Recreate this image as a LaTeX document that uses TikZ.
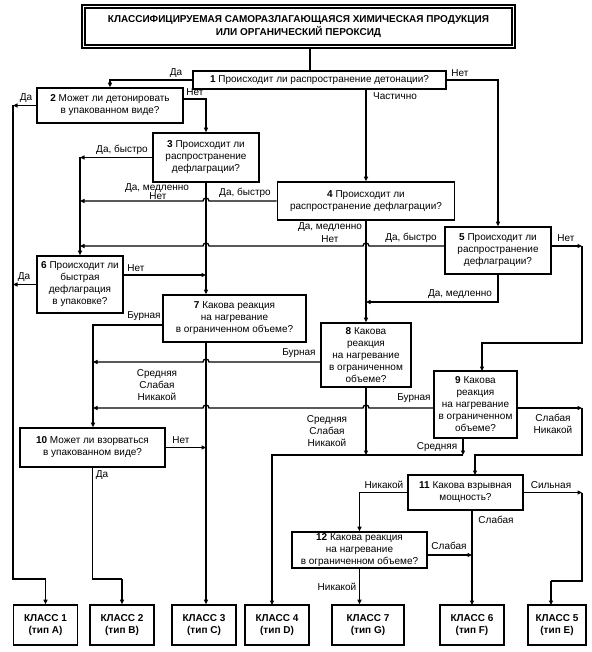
\documentclass[tikz,border=0pt]{standalone}
\usepackage{fontspec}
\setmainfont{Liberation Sans}
\usepackage{tikz}
\usetikzlibrary{arrows.meta}

\begin{document}
\begin{tikzpicture}[
    x=1pt, y=-1pt,
    font=\fontsize{10}{12}\selectfont,
    qbox/.style={rectangle, draw, line width=1.6pt, align=center, inner sep=1pt},
    kbox/.style={rectangle, draw, line width=1.6pt, align=center, minimum width=64pt, minimum height=40pt, font=\fontsize{10}{12}\selectfont\bfseries},
    lbl/.style={inner sep=0pt},
    ln/.style={line width=1.3pt},
    arr/.style={line width=1.3pt, -{Triangle[length=4.5pt,width=4pt]}}
]
\useasboundingbox (0,0) rectangle (591,652);

% Nodes
\node[draw, double, double distance=1.8pt, line width=1.3pt, minimum width=430pt, minimum height=40pt, align=center, font=\fontsize{10}{13}\selectfont\bfseries] (title) at (298.5,26.5)
  {КЛАССИФИЦИРУЕМАЯ САМОРАЗЛАГАЮЩАЯСЯ ХИМИЧЕСКАЯ ПРОДУКЦИЯ\\ИЛИ ОРГАНИЧЕСКИЙ ПЕРОКСИД};
\node[qbox, minimum width=253pt, minimum height=18pt] (b1) at (319.5,80) {\textbf{1} Происходит ли распространение детонации?};
\node[qbox, minimum width=146pt, minimum height=35pt] (b2) at (110,105.5) {\textbf{2} Может ли детонировать\\в упакованном виде?};
\node[qbox, minimum width=106pt, minimum height=49pt] (b3) at (206,157.5) {\textbf{3} Происходит ли\\распространение\\дефлаграции?};
\node[qbox, minimum width=177pt, minimum height=38pt] (b4) at (366,201) {\textbf{4} Происходит ли\\распространение дефлаграции?};
\node[qbox, minimum width=106pt, minimum height=47pt] (b5) at (498,250.5) {\textbf{5} Происходит ли\\распространение\\дефлаграции?};
\node[qbox, minimum width=86pt, minimum height=57pt] (b6) at (80,284.5) {\textbf{6} Происходит ли\\быстрая\\дефлаграция\\в упаковке?};
\node[qbox, minimum width=143pt, minimum height=47pt] (b7) at (234.5,318.5) {\textbf{7} Какова реакция\\на нагревание\\в ограниченном объеме?};
\node[qbox, minimum width=90pt, minimum height=64pt] (b8) at (366,355) {\textbf{8} Какова\\реакция\\на нагревание\\в ограниченном\\объеме?};
\node[qbox, minimum width=83pt, minimum height=67pt] (b9) at (475.5,404.5) {\textbf{9} Какова\\реакция\\на нагревание\\в ограниченном\\объеме?};
\node[qbox, minimum width=145pt, minimum height=39pt] (b10) at (92.5,447.5) {\textbf{10} Может ли взорваться\\в упакованном виде?};
\node[qbox, minimum width=115pt, minimum height=35pt] (b11) at (465.5,492.5) {\textbf{11} Какова взрывная\\мощность?};
\node[qbox, minimum width=135pt, minimum height=36pt] (b12) at (359.5,550) {\textbf{12} Какова реакция\\на нагревание\\в ограниченном объеме?};

\node[kbox] (k1) at (45.5,625) {КЛАСС 1\\(тип А)};
\node[kbox] (k2) at (122,625) {КЛАСС 2\\(тип В)};
\node[kbox] (k3) at (204,625) {КЛАСС 3\\(тип С)};
\node[kbox] (k4) at (277,625) {КЛАСС 4\\(тип D)};
\node[kbox, minimum width=72pt] (k7) at (368,625) {КЛАСС 7\\(тип G)};
\node[kbox] (k6) at (472,625) {КЛАСС 6\\(тип F)};
\node[kbox, minimum width=58pt] (k5) at (557,625) {КЛАСС 5\\(тип Е)};

% Junctions
\coordinate (jA) at (13,105.5);
\coordinate (jB) at (80,157.5);
\coordinate (jC) at (93,325);
\coordinate (jD) at (463,455);
\coordinate (jE) at (582,246);
\coordinate (jF) at (582,408);
\coordinate (jG) at (582,492.5);

% Edges
\draw[ln] ([xshift=-9.5pt]b1.north) -- ([xshift=-9.5pt]b1.north |- title.south);
\draw[arr] (b1.west) -| (b2.north);
\draw[arr] (b1.east) -| (b5.north);
\draw[arr] (b4.north |- b1.south) -- (b4.north);

\draw[arr] (b2.west) -- (jA);
\draw[ln] (jA) -- (13,579) -- (45.5,579);
\draw[arr] (45.5,579) -- (k1.north);
\draw[arr] ([yshift=6.5pt]b2.east) -| (b3.north);

\draw[arr] (b3.west) -- (jB);
\draw[arr] (jB) -- (b6.north);
\draw[arr] (b3.south) -- (b3.south |- b7.north);
\draw[arr] (b3.south |- b7.south) -- (b3.south |- k3.north);

\draw[arr] (b4.west) -- (209,201) arc[start angle=0, end angle=180, radius=3pt] -- (80,201);
\draw[arr] (b4.south) -- (b8.north);

\draw[arr] ([yshift=4.5pt]b5.west) -- (369,246) arc[start angle=0, end angle=180, radius=3pt]
  -- (209,246) arc[start angle=0, end angle=180, radius=3pt] -- (80,246);
\draw[arr] ([yshift=4.5pt]b5.east) -- (jE);
\draw[arr] (jE) -- (582,343) -| (482,371);
\draw[arr] (b5.south) |- (366,302);

\draw[arr] (b6.west) -- (13,284.5);
\draw[arr] ([yshift=9.5pt]b6.east) -- (206,275);

\draw[arr] ([yshift=-6.5pt]b7.west) -- (jC) -- (jC |- b10.north);
\draw[arr] ([yshift=-7pt]b8.west) -- (209,362) arc[start angle=0, end angle=180, radius=3pt] -- (93,362);
\draw[arr] (b8.south) -- (366,455);

\draw[arr] ([yshift=-3.5pt]b9.west) -- (369,408) arc[start angle=0, end angle=180, radius=3pt]
  -- (209,408) arc[start angle=0, end angle=180, radius=3pt] -- (93,408);
\draw[arr] ([yshift=-3.5pt]b9.east) -- (jF);
\draw[arr] (jF) |- (475,455) -- (475,475);
\draw[arr] (463,438) -- (jD);
\draw[arr] (jD) -- (272,455) -- (272,605);

\draw[arr] (b10.east) -- (206,447.5);
\draw[ln] (b10.south) -- (92.5,579) -- (122,579);
\draw[arr] (122,579) -- (k2.north);

\draw[arr] (b11.west) -| (b12.north);
\draw[arr] (b11.east) -- (jG);
\draw[ln] (jG) -- (582,581) -- (551,581);
\draw[arr] (551,581) -- (551,605);
\draw[arr] (472,510) -- (472,605);

\draw[arr] ([yshift=-5pt]b12.east) -- (472,555);
\draw[arr] (b12.south) -- (b12.south |- k7.north);

% Labels
\node[lbl] (l1a) at (176,73) {Да};
\node[lbl] (l1b) at (460,73) {Нет};
\node[lbl] (l1c) at (395,96) {Частично};
\node[lbl] (l2a) at (26,98) {Да};
\node[lbl] (l2b) at (195,92) {Нет};
\node[lbl] (l3a) at (122,150) {Да, быстро};
\node[lbl] (l3b) at (157,188) {Да, медленно};
\node[lbl] (l3c) at (158,196) {Нет};
\node[lbl] (l4a) at (245,193) {Да, быстро};
\node[lbl] (l4b) at (330,227) {Да, медленно};
\node[lbl] (l4c) at (330,239) {Нет};
\node[lbl] (l5a) at (411,238) {Да, быстро};
\node[lbl] (l5b) at (566,238) {Нет};
\node[lbl] (l5c) at (460,294) {Да, медленно};
\node[lbl] (l6a) at (24,277) {Да};
\node[lbl] (l6b) at (136,268) {Нет};
\node[lbl] (l7a) at (144,316) {Бурная};
\node[lbl, align=center] (l7b) at (157,385) {Средняя\\Слабая\\Никакой};
\node[lbl] (l8a) at (299,353) {Бурная};
\node[lbl, align=center] (l8b) at (327,431) {Средняя\\Слабая\\Никакой};
\node[lbl] (l9a) at (414,398) {Бурная};
\node[lbl, align=center] (l9b) at (553,424) {Слабая\\Никакой};
\node[lbl] (l9c) at (437,447) {Средняя};
\node[lbl] (l10a) at (181,440) {Нет};
\node[lbl] (l10b) at (102,475) {Да};
\node[lbl] (l11a) at (384,485) {Никакой};
\node[lbl] (l11b) at (551,485) {Сильная};
\node[lbl] (l11c) at (496,520) {Слабая};
\node[lbl] (l12a) at (449,546) {Слабая};
\node[lbl] (l12b) at (337,587) {Никакой};

\end{tikzpicture}
\end{document}
